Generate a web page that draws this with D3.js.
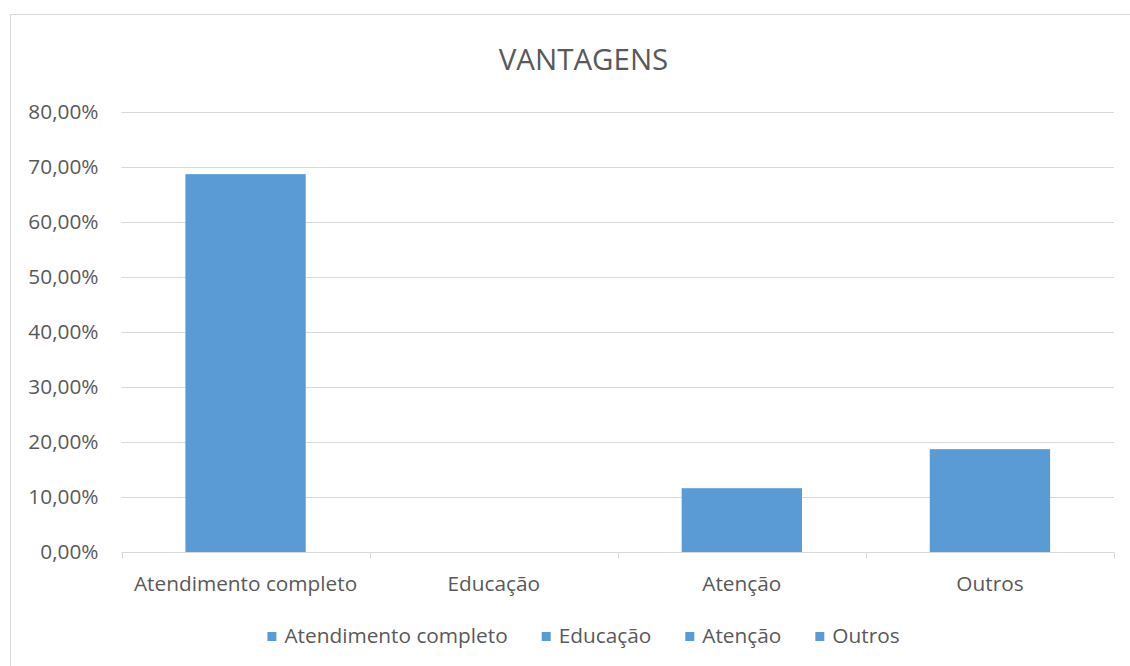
<!DOCTYPE html>
<html><head><meta charset="utf-8">
<script src="https://cdn.jsdelivr.net/npm/d3@7"></script>
<style>body{margin:0;background:#fff}svg{display:block}text{font-family:"Open Sans",sans-serif;fill:#595959}</style>
</head><body><svg id="c" width="1130" height="666"></svg>
<script>
const title = "VANTAGENS";
const categories = ["Atendimento completo","Educação","Atenção","Outros"];
const values = [68.7, 0, 11.6, 18.7];
const yTicks = [0,10,20,30,40,50,60,70,80];
const fmt = v => v.toFixed(2).replace(".", ",") + "%";

const svg = d3.select("#c");
const plot = {left:121.5, right:1114, top:112, bottom:552};
const barColor = "#5b9bd5", gridColor="#d9d9d9", txt="#595959";
const fs = 20.8;

svg.append("rect").attr("x",10.5).attr("y",14.5).attr("width",1300).attr("height",800)
  .attr("fill","#fff").attr("stroke","#d9d9d9").attr("stroke-width",1);

const x = d3.scaleBand().domain(categories).range([plot.left, plot.right]).paddingInner(0.515).paddingOuter(0.2575);
const xc = d3.scaleBand().domain(categories).range([plot.left, plot.right]);
const y = d3.scaleLinear().domain([0,80]).range([plot.bottom, plot.top]);

svg.append("g").selectAll("line").data(yTicks.filter(d=>d>0)).join("line")
  .attr("x1",plot.left).attr("x2",plot.right)
  .attr("y1",d=>Math.round(y(d))+0.5).attr("y2",d=>Math.round(y(d))+0.5)
  .attr("stroke",gridColor).attr("stroke-width",1);

const ya = svg.append("g").attr("transform",`translate(${plot.left},0)`)
  .call(d3.axisLeft(y).tickValues(yTicks).tickFormat(fmt).tickSize(0).tickPadding(23));
ya.select(".domain").remove();
ya.selectAll("text").attr("font-size",fs).attr("fill",txt).style("font-family",'"Open Sans",sans-serif');

svg.append("g").selectAll("rect").data(categories).join("rect")
  .attr("x",d=>x(d)).attr("width",x.bandwidth())
  .attr("y",(d,i)=>y(values[i])).attr("height",(d,i)=>y(0)-y(values[i]))
  .attr("fill",barColor);

const base = Math.round(y(0))+0.5;
svg.append("line").attr("x1",plot.left).attr("x2",plot.right).attr("y1",base).attr("y2",base)
  .attr("stroke",gridColor).attr("stroke-width",1);
const tickXs = categories.map(c=>xc(c)).concat([plot.right]);
svg.append("g").selectAll("line").data(tickXs).join("line")
  .attr("x1",d=>Math.round(d)+0.5).attr("x2",d=>Math.round(d)+0.5)
  .attr("y1",base).attr("y2",base+6).attr("stroke",gridColor);
svg.append("g").selectAll("text").data(categories).join("text")
  .attr("x",d=>xc(d)+xc.bandwidth()/2).attr("y",591)
  .attr("text-anchor","middle").attr("font-size",fs).text(d=>d);

svg.append("text").attr("x",583.5).attr("y",70).attr("text-anchor","middle")
  .attr("font-size",29.5).text(title);

const lg = svg.append("g");
const items = lg.selectAll("g").data(categories).join("g");
items.append("rect").attr("width",9).attr("height",9).attr("y",-11).attr("fill",barColor);
items.append("text").attr("x",17).attr("font-size",fs).text(d=>d);
let cx=0; const widths=[];
items.each(function(d){ const w=17+this.querySelector("text").getComputedTextLength(); widths.push(w); });
const gap=34; const total=d3.sum(widths)+gap*(widths.length-1);
const start=583.5-total/2;
items.attr("transform",(d,i)=>{const t=`translate(${start+cx},643)`; cx+=widths[i]+gap; return t;});
</script></body></html>
